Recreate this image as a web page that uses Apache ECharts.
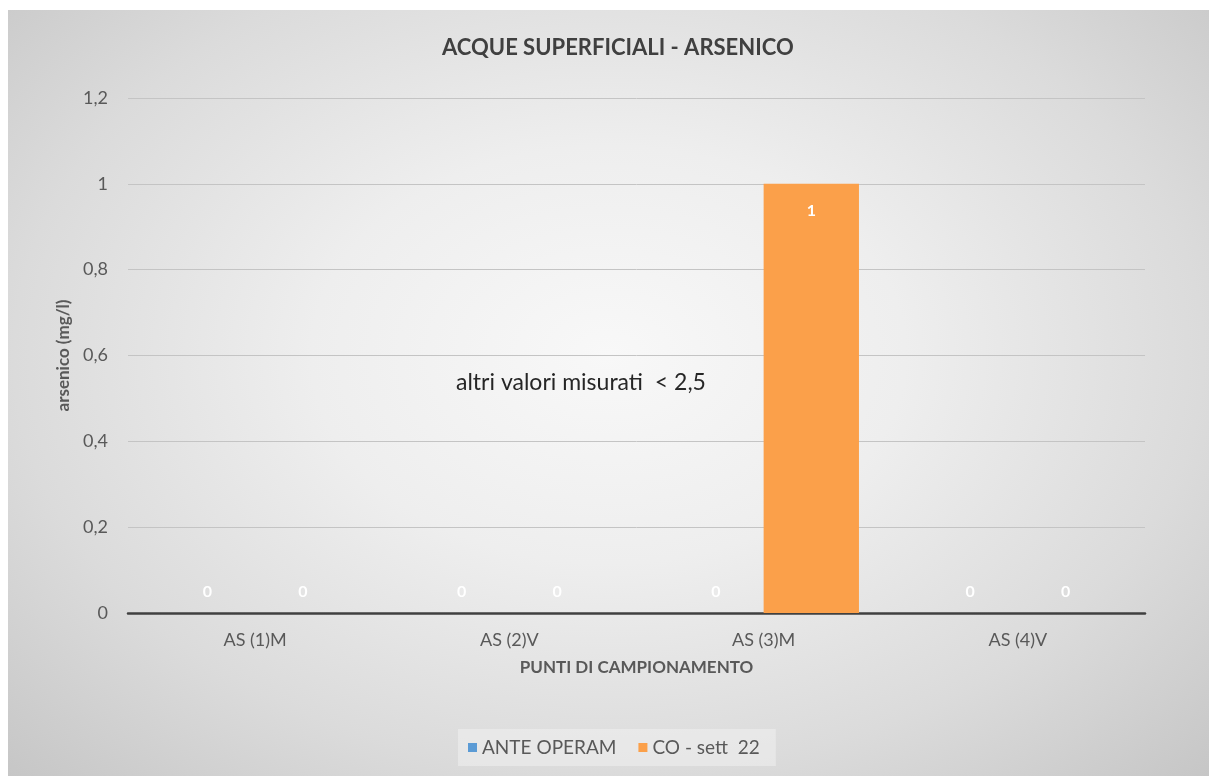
<!DOCTYPE html>
<html>
<head>
<meta charset="utf-8">
<script src="https://cdn.jsdelivr.net/npm/echarts@6/dist/echarts.min.js"></script>
<style>
html,body{margin:0;padding:0;background:#fff;}
#bg{position:absolute;left:8px;top:10px;right:0;bottom:0;
background:radial-gradient(ellipse at 50% 45%, #f8f8f8 0%, #eeeeee 35%, #dbdbdb 70%, #c6c6c6 100%);}
#chart{position:absolute;left:0;top:0;width:1209px;height:776px;}
</style>
</head>
<body>
<div id="bg"></div>
<div id="chart"></div>
<script>
const categories = ['AS (1)M', 'AS (2)V', 'AS (3)M', 'AS (4)V'];
const anteOperam = [0, 0, 0, 0];
const coSett22 = [0, 0, 1, 0];
const seriesNames = ['ANTE OPERAM', 'CO - sett  22'];
const yTicks = [0, 0.2, 0.4, 0.6, 0.8, 1, 1.2];

const FONT = 'Lato, "Noto Sans", sans-serif';

function toItems(arr) {
  return arr.map(v => ({
    value: v,
    label: v === 0
      ? { position: 'top', distance: 13 }
      : { position: 'insideTop', distance: 19 }
  }));
}

const chart = echarts.init(document.getElementById('chart'));
chart.setOption({
  backgroundColor: 'transparent',
  animation: false,
  title: {
    text: 'ACQUE SUPERFICIALI - ARSENICO',
    left: 437,
    top: 32,
    textStyle: { fontFamily: FONT, fontSize: 22, fontWeight: 'bold', color: '#404040' }
  },
  legend: {
    data: seriesNames,
    bottom: 10,
    left: 458,
    itemWidth: 9,
    itemHeight: 9,
    itemGap: 22,
    padding: [9, 16, 9, 10],
    backgroundColor: 'rgba(240,240,240,0.55)',
    icon: 'rect',
    textStyle: { fontFamily: FONT, fontSize: 19, color: '#595959' }
  },
  grid: { left: 128, right: 64, top: 98, bottom: 163, containLabel: false },
  xAxis: {
    type: 'category',
    data: categories,
    name: 'PUNTI DI CAMPIONAMENTO',
    nameLocation: 'middle',
    nameGap: 46,
    nameTextStyle: { fontFamily: FONT, fontSize: 17, fontWeight: 'bold', color: '#595959' },
    axisLine: { lineStyle: { color: '#404040', width: 2.5 } },
    axisTick: { show: false },
    axisLabel: { fontFamily: FONT, fontSize: 18, color: '#595959', margin: 18 }
  },
  yAxis: {
    type: 'value',
    min: 0,
    max: 1.2,
    interval: 0.2,
    name: 'arsenico (mg/l)',
    nameLocation: 'middle',
    nameGap: 56,
    nameTextStyle: { fontFamily: FONT, fontSize: 17, fontWeight: 'bold', color: '#595959' },
    axisLine: { show: false },
    axisTick: { show: false },
    splitLine: { lineStyle: { color: '#c4c4c4', width: 1 } },
    axisLabel: {
      fontFamily: FONT, fontSize: 18, color: '#595959', margin: 20,
      formatter: v => {
        const t = yTicks.find(x => Math.abs(x - v) < 1e-9);
        return String(t !== undefined ? t : v).replace('.', ',');
      }
    }
  },
  series: [
    {
      name: seriesNames[0],
      type: 'bar',
      data: toItems(anteOperam),
      barGap: '0%',
      barCategoryGap: '25%',
      itemStyle: { color: '#5b9bd5' },
      label: { show: true, color: '#ffffff', fontFamily: FONT, fontSize: 16, fontWeight: 'bold' }
    },
    {
      name: seriesNames[1],
      type: 'bar',
      data: toItems(coSett22),
      barGap: '0%',
      barCategoryGap: '25%',
      itemStyle: { color: '#fba04a' },
      label: { show: true, color: '#ffffff', fontFamily: FONT, fontSize: 16, fontWeight: 'bold' }
    }
  ],
  graphic: [
    {
      type: 'text',
      left: 456,
      top: 371,
      style: { text: 'altri valori misurati  < 2,5', font: '23px ' + FONT, fill: '#262626' }
    }
  ]
});
</script>
</body>
</html>
